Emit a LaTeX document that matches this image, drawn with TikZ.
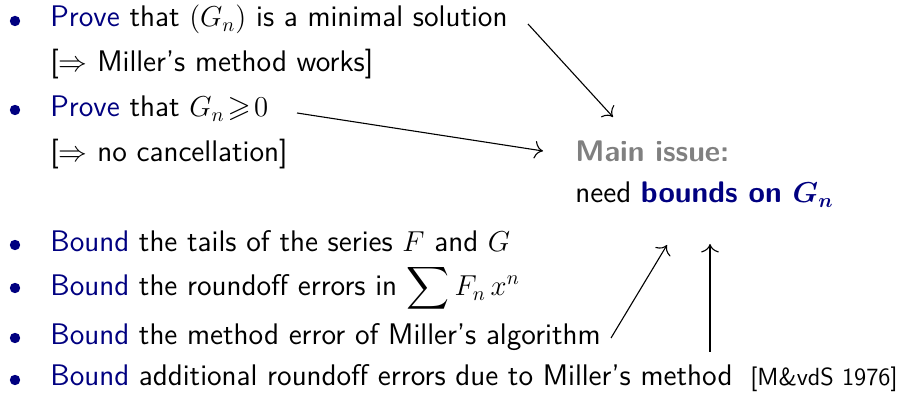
\documentclass[tikz,border=0pt]{standalone}
\usepackage{amssymb}
\usetikzlibrary{arrows.meta}
\definecolor{struct}{rgb}{0.0,0.0,0.5}
\definecolor{issue}{gray}{0.5}
\begin{document}
\begin{tikzpicture}[x=0.5pt,y=-0.5pt,
  txt/.style={anchor=base west,inner sep=0pt,font=\sffamily\fontsize{14.9}{17}\selectfont},
  ref/.style={anchor=base west,inner sep=0pt,font=\sffamily\fontsize{12.4}{14}\selectfont},
  bul/.style={circle,fill=struct,inner sep=0pt,minimum size=5.2pt},
  arr/.style={-{To[scale=1.5]},line width=0.55pt}]
\useasboundingbox (0,0) rectangle (898,394);
% bullets
\node[bul] (b1) at (15,21) {};
\node[bul] (b2) at (15,110) {};
\node[bul] (b3) at (15,245) {};
\node[bul] (b4) at (15,288) {};
\node[bul] (b5) at (15,338) {};
\node[bul] (b6) at (15,380) {};
% items
\node[txt] (t1) at (50,27) {\textcolor{struct}{Prove} that $(G_n)$ is a minimal solution};
\node[txt] (t2) at (50,72) {[$\Rightarrow$ Miller's method works]};
\node[txt] (t3) at (50,117) {\textcolor{struct}{Prove} that $G_n\!\geqslant\!0$};
\node[txt] (t4) at (50,162) {[$\Rightarrow$ no cancellation]};
\node[txt] (t5) at (50,252) {\textcolor{struct}{Bound} the tails of the series $F$ and $G$};
\node[txt] (t6) at (50,296) {\textcolor{struct}{Bound} the roundoff errors in $\displaystyle\sum F_n\,x^n$};
\node[txt] (t7) at (50,345) {\textcolor{struct}{Bound} the method error of Miller's algorithm};
\node[txt] (t8) at (50,386) {\textcolor{struct}{Bound} additional roundoff errors due to Miller's method};
\node[ref] (r) at (750,386) {[M\&vdS 1976]};
% main issue
\node[txt] (m1) at (575,162) {\textbf{\textcolor{issue}{Main issue:}}};
\node[txt] (m2) at (575,203) {need \textcolor{struct}{\textbf{bounds on {\boldmath$G_n$}}}};
% connector endpoints
\coordinate (s1) at (528,24);
\coordinate (e1) at (613,117);
\coordinate (s2) at (297,113);
\coordinate (e2) at (543,151);
\coordinate (s3) at (611,338);
\coordinate (e3) at (667,245);
\coordinate (s4) at (710,352);
\coordinate (e4) at (710,244);
\draw[arr] (s1) -- (e1);
\draw[arr] (s2) -- (e2);
\draw[arr] (s3) -- (e3);
\draw[arr] (s4) -- (e4);
\end{tikzpicture}
\end{document}
